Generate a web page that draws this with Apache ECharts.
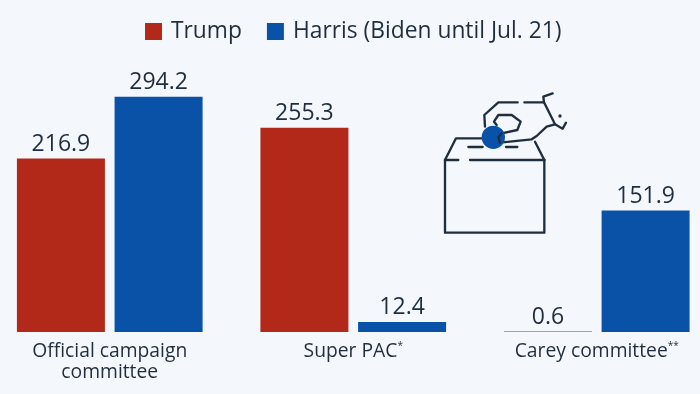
<!DOCTYPE html>
<html>
<head>
<meta charset="utf-8">
<style>html,body{margin:0;padding:0;background:#f4f7fb}#c{width:700px;height:394px}</style>
<script src="https://cdn.jsdelivr.net/npm/echarts@6/dist/echarts.min.js"></script>
</head>
<body>
<div id="c"></div>
<script>
const categories = ['Official campaign\ncommittee', 'Super PAC*', 'Carey committee**'];
const trump = [216.9, 255.3, 0.6];
const harris = [294.2, 12.4, 151.9];
const seriesNames = ['Trump', 'Harris (Biden until Jul. 21)'];
const FONT = '"Open Sans"';
const INK = '#1f2e3f';
const RED = '#b2291a';
const BLUE = '#0a52a8';

function line(points, w) {
  return {type: 'polyline', shape: {points: points},
    style: {stroke: INK, lineWidth: w || 7, fill: null, lineCap: 'round', lineJoin: 'round'}};
}
const icon = {
  type: 'group', x: 430, y: 80, scaleX: 1 / 3, scaleY: 1 / 3, z: 10, silent: true,
  children: [
    line([[45,240],[45,458],[343,458],[343,240]]),
    line([[45,240],[85,240]]),
    line([[120,240],[343,240]]),
    line([[45,240],[78,175],[160,175]]),
    line([[315,185],[343,240]]),
    line([[115,201],[158,201]]),
    line([[228,201],[262,201]]),
    line([[165,140],[163,105],[205,67],[263,67]]),
    line([[283,67],[342,67],[375,133],[398,146],[408,128]]),
    line([[342,67],[340,50],[368,40]]),
    line([[375,133],[350,140],[320,168],[305,178],[210,188]]),
    line([[215,160],[262,150],[272,125],[245,105],[205,105],[192,125],[200,135]]),
    {type: 'circle', shape: {cx: 190, cy: 172, r: 35}, style: {fill: BLUE}},
    line([[210,188],[205,172],[215,160]]),
    {type: 'circle', shape: {cx: 390, cy: 108, r: 5}, style: {fill: INK}}
  ]
};

const label = {show: true, position: 'top', distance: 3, fontFamily: FONT, fontSize: 23, color: INK};
const chart = echarts.init(document.getElementById('c'), null, {renderer: 'canvas'});
chart.setOption({
  animation: false,
  backgroundColor: '#f4f7fb',
  legend: {
    left: 140, top: 15, itemWidth: 17, itemHeight: 17, itemGap: 25, icon: 'rect',
    textStyle: {fontFamily: FONT, fontSize: 22.8, color: INK, padding: [0, 0, 0, 4]},
    data: seriesNames
  },
  grid: {left: -12, width: 730.5, top: 92, height: 240, outerBoundsMode: 'none'},
  xAxis: {
    type: 'category', data: categories,
    axisLine: {show: false}, axisTick: {show: false},
    axisLabel: {
      interval: 0, margin: 9, fontFamily: FONT, fontSize: 19.3, color: INK, lineHeight: 21,
      formatter: v => v.replace(/(\*+)$/, '{sup|$1}'),
      rich: {sup: {fontFamily: FONT, fontSize: 10, color: INK, verticalAlign: 'top', padding: [0, 0, 6, 0]}}
    }
  },
  yAxis: {type: 'value', min: 0, max: 300, show: false},
  graphic: {elements: [icon]},
  series: [
    {name: seriesNames[0], type: 'bar', data: trump, barWidth: 88, barGap: '11%', itemStyle: {color: RED}, label},
    {name: seriesNames[1], type: 'bar', data: harris, barWidth: 88, barGap: '11%', itemStyle: {color: BLUE}, label}
  ]
});
</script>
</body>
</html>
